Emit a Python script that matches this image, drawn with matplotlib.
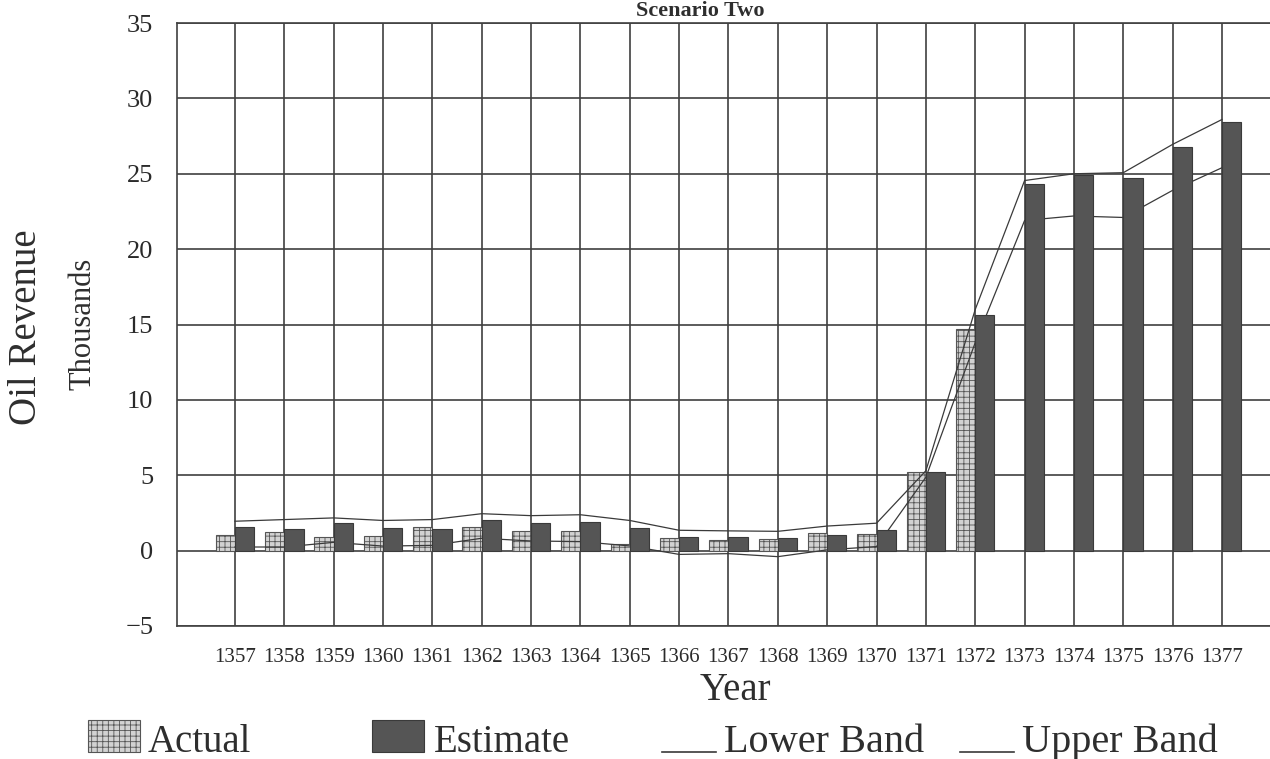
import matplotlib
matplotlib.use('Agg')
import matplotlib.pyplot as plt
from matplotlib.patches import Rectangle
from matplotlib.lines import Line2D
import numpy as np

plt.rcParams['font.family'] = ['Liberation Serif', 'DejaVu Serif']
plt.rcParams['hatch.color'] = '#8a8a8a'
plt.rcParams['hatch.linewidth'] = 0.6

# values (thousands)
years = ['1357', '1358', '1359', '1360', '1361', '1362', '1363', '1364', '1365', '1366', '1367',
         '1368', '1369', '1370', '1371', '1372', '1373', '1374', '1375', '1376', '1377']
actual = [1.06, 1.22, 0.90, 0.97, 1.57, 1.55, 1.27, 1.27, 0.45, 0.82, 0.71,
          0.78, 1.20, 1.10, 5.20, 14.70, None, None, None, None, None]
estimate = [1.55, 1.46, 1.83, 1.52, 1.46, 2.00, 1.86, 1.93, 1.50, 0.93, 0.93,
            0.82, 1.04, 1.35, 5.20, 15.60, 24.35, 24.90, 24.75, 26.75, 28.40]
lower_band = [0.24, 0.24, 0.55, 0.30, 0.35, 0.82, 0.64, 0.60, 0.31, -0.25, -0.20,
              -0.40, 0.05, 0.27, 4.87, 13.80, 21.90, 22.20, 22.10, 23.90, 25.40]
upper_band = [1.95, 2.06, 2.17, 2.00, 2.06, 2.45, 2.32, 2.38, 2.00, 1.35, 1.31,
              1.28, 1.63, 1.82, 5.30, 16.00, 24.55, 25.00, 25.07, 26.95, 28.60]

W, H = 1270, 759
fig = plt.figure(figsize=(W / 100, H / 100), dpi=100)
fig.patch.set_facecolor('white')

# axes box in pixel terms: left 177, top 23, bottom 626, runs off the right edge
ax = fig.add_axes([177 / W, 1 - 626 / H, 1 - 177 / W, (626 - 23) / H])

x = np.arange(len(years))
bw = 0.39
grid_c = '#404040'

act_idx = [i for i, v in enumerate(actual) if v is not None]
act_val = [actual[i] for i in act_idx]
ax.bar(x[act_idx] - bw / 2, act_val, width=bw, color='#d2d2d2', edgecolor='#555555',
       linewidth=0.8, hatch='+++', zorder=2)
ax.plot(x, lower_band, color='#3a3a3a', linewidth=0.9, zorder=3)
ax.plot(x, upper_band, color='#3a3a3a', linewidth=0.9, zorder=3)
ax.bar(x + bw / 2, estimate, width=bw, color='#555555', edgecolor='#3a3a3a',
       linewidth=0.8, zorder=4)

ax.set_xlim(-1.175, (W - 235) / 49.35)
ax.set_ylim(-5, 35)
ax.set_yticks(np.arange(-5, 36, 5))
ax.set_yticklabels(['\u22125' if v < 0 else str(v) for v in range(-5, 36, 5)])
ax.set_xticks(x)
ax.set_xticklabels(years)
ax.grid(True, color=grid_c, linewidth=1.2, zorder=1)
ax.set_axisbelow(True)
ax.tick_params(axis='both', length=0)
ax.tick_params(axis='y', labelsize=19, pad=17, colors='#2a2a2a')
ax.tick_params(axis='x', labelsize=15, pad=16, colors='#2a2a2a')
for side in ['left', 'bottom', 'top']:
    ax.spines[side].set_color(grid_c)
    ax.spines[side].set_linewidth(1.2)
ax.spines['right'].set_visible(False)

txt_c = '#2e2e2e'
fig.text(700 / W, 1 - 16 / H, 'Scenario Two', ha='center', va='baseline',
         fontsize=16, fontweight='bold', color=txt_c)
fig.text(27 / W, 1 - 327 / H, 'Oil Revenue', rotation=90, ha='center', va='center',
         fontsize=28, color=txt_c)
fig.text(83 / W, 1 - 324 / H, 'Thousands', rotation=90, ha='center', va='center',
         fontsize=22, color=txt_c)
fig.text(735 / W, 1 - 700 / H, 'Year', ha='center', va='baseline',
         fontsize=28, color=txt_c)

# legend, laid out by hand along the bottom
base = 1 - 752 / H
fig.patches.append(Rectangle((88 / W, base), 52 / W, 32 / H, transform=fig.transFigure,
                             facecolor='#d2d2d2', edgecolor='#555555', hatch='+++',
                             linewidth=0.8))
fig.text(148 / W, base, 'Actual', ha='left', va='baseline', fontsize=28, color=txt_c)
fig.patches.append(Rectangle((372 / W, base), 52 / W, 32 / H, transform=fig.transFigure,
                             facecolor='#555555', edgecolor='#3a3a3a', linewidth=0.8))
fig.text(434 / W, base, 'Estimate', ha='left', va='baseline', fontsize=28, color=txt_c)
fig.lines.append(Line2D([662 / W, 716 / W], [base, base], transform=fig.transFigure,
                        color='#3a3a3a', linewidth=1.2))
fig.text(724 / W, base, 'Lower Band', ha='left', va='baseline', fontsize=29, color=txt_c)
fig.lines.append(Line2D([960 / W, 1014 / W], [base, base], transform=fig.transFigure,
                        color='#3a3a3a', linewidth=1.2))
fig.text(1022 / W, base, 'Upper Band', ha='left', va='baseline', fontsize=29, color=txt_c)

fig.savefig('out.png', dpi=100, facecolor='white')
